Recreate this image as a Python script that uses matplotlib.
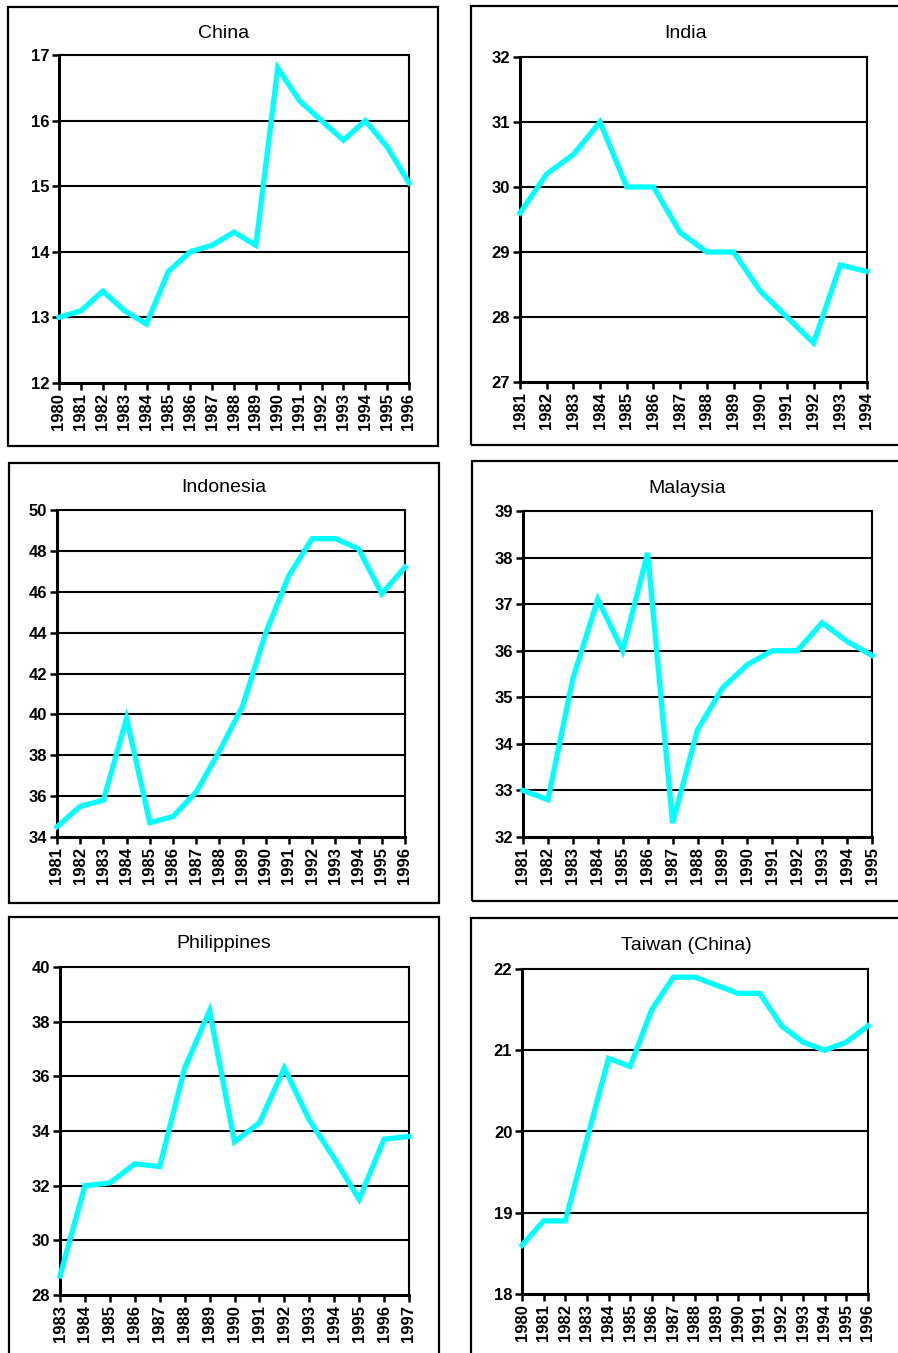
import matplotlib
matplotlib.use("Agg")
import matplotlib.pyplot as plt
from matplotlib.patches import Rectangle

plt.rcParams['font.family'] = ['Liberation Sans Narrow', 'Liberation Sans', 'DejaVu Sans']

W, H = 898, 1353

# --- data ---
china_years = list(range(1980, 1997))
china_vals = [13.0, 13.1, 13.4, 13.1, 12.9, 13.7, 14.0, 14.1, 14.3, 14.1,
              16.8, 16.3, 16.0, 15.7, 16.0, 15.6, 15.05]

india_years = list(range(1981, 1995))
india_vals = [29.6, 30.2, 30.5, 31.0, 30.0, 30.0, 29.3, 29.0, 29.0, 28.4,
              28.0, 27.6, 28.8, 28.7]

indonesia_years = list(range(1981, 1997))
indonesia_vals = [34.5, 35.5, 35.8, 39.8, 34.7, 35.0, 36.2, 38.2, 40.4, 44.0,
                  46.8, 48.6, 48.6, 48.1, 45.9, 47.2]

malaysia_years = list(range(1981, 1996))
malaysia_vals = [33.0, 32.8, 35.4, 37.1, 36.0, 38.1, 32.3, 34.3, 35.2, 35.7,
                 36.0, 36.0, 36.6, 36.2, 35.9]

philippines_years = list(range(1983, 1998))
philippines_vals = [28.7, 32.0, 32.1, 32.8, 32.7, 36.3, 38.4, 33.6, 34.3, 36.3,
                    34.4, 33.0, 31.5, 33.7, 33.8]

taiwan_years = list(range(1980, 1997))
taiwan_vals = [18.6, 18.9, 18.9, 19.9, 20.9, 20.8, 21.5, 21.9, 21.9, 21.8,
               21.7, 21.7, 21.3, 21.1, 21.0, 21.1, 21.3]

# (title, years, values, y ticks, box px (l, t, r, b), axes px (l, t, r, b), title px (x, y))
panels = [
    ("China", china_years, china_vals, [12, 13, 14, 15, 16, 17],
     (8, 7, 438, 446), (59, 55, 409, 383), (224, 33)),
    ("India", india_years, india_vals, [27, 28, 29, 30, 31, 32],
     (471, 6, 900, 445), (520, 57, 867, 382), (686, 34)),
    ("Indonesia", indonesia_years, indonesia_vals, list(range(34, 51, 2)),
     (9, 463, 439, 903), (57, 510, 405, 837), (224, 488)),
    ("Malaysia", malaysia_years, malaysia_vals, list(range(32, 40)),
     (472, 461, 900, 901), (523, 511, 872, 837), (687, 489)),
    ("Philippines", philippines_years, philippines_vals, list(range(28, 41, 2)),
     (9, 917, 439, 1356), (60, 967, 409, 1295), (224, 944)),
    ("Taiwan (China)", taiwan_years, taiwan_vals, [18, 19, 20, 21, 22],
     (471, 918, 900, 1356), (522, 969, 868, 1294), (686, 946)),
]

fig = plt.figure(figsize=(W / 100, H / 100), dpi=100)
fig.patch.set_facecolor('white')

for title, years, vals, yticks, box, axp, tpos in panels:
    bl, bt, br, bb = box
    fig.patches.append(Rectangle((bl / W, 1 - bb / H), (br - bl) / W, (bb - bt) / H,
                                 transform=fig.transFigure, fill=False,
                                 edgecolor='black', linewidth=1.6, zorder=0))
    al, at, ar, ab = axp
    ax = fig.add_axes([al / W, 1 - ab / H, (ar - al) / W, (ab - at) / H])
    x = list(range(len(years)))
    ax.plot(x, vals, color='#00ffff', linewidth=3.8, solid_joinstyle='miter',
            clip_on=False, zorder=3)
    ax.set_xlim(0, len(years) - 1)
    ax.set_ylim(yticks[0], yticks[-1])
    ax.set_yticks(yticks)
    ax.set_xticks(x)
    ax.set_xticklabels([str(y) for y in years], rotation=90)
    for t in yticks[1:-1]:
        ax.axhline(t, color='black', linewidth=1.5, zorder=2)
    for side in ['top', 'right']:
        ax.spines[side].set_linewidth(1.5)
    for side in ['left', 'bottom']:
        ax.spines[side].set_linewidth(2.2)
    ax.tick_params(axis='both', direction='out', length=5, width=1.8,
                   labelsize=12, pad=2)
    for lab in ax.get_xticklabels() + ax.get_yticklabels():
        lab.set_fontweight('bold')
    fig.text(tpos[0] / W, 1 - tpos[1] / H, title, fontsize=14, ha='center',
             va='center', family=['Liberation Sans', 'DejaVu Sans'])

fig.savefig('out.png', dpi=100, facecolor='white')
